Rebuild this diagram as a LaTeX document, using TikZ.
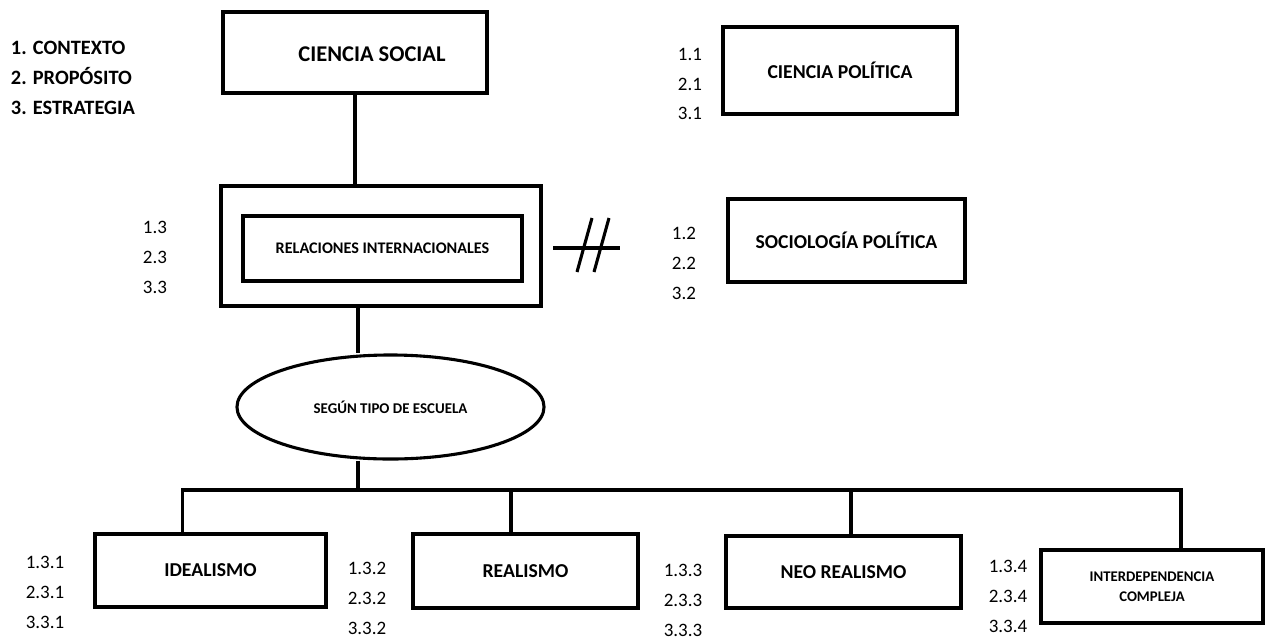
\documentclass[tikz,border=0pt]{standalone}
\usepackage{fontspec}
\setmainfont{Carlito}
\usetikzlibrary{shapes.geometric}

\begin{document}
\begin{tikzpicture}[x=0.025cm, y=-0.025cm,
	caja/.style={draw, line width=2.6pt, inner sep=0pt, font=\bfseries\fontsize{14}{16}\selectfont},
	conn/.style={line width=2.6pt},
	nums/.style={align=center, font=\fontsize{13.5}{21.3}\selectfont}]
	\useasboundingbox (0,0) rectangle (1265,640);

	% leyenda
	\node[anchor=west, align=left, font=\bfseries\fontsize{14.5}{21.3}\selectfont] (leyenda) at (6,78) {1. CONTEXTO\\2. PROP\'OSITO\\3. ESTRATEGIA};

	% recuadros superiores
	\node[caja, minimum width=6.6cm, minimum height=2.025cm] (social) at (355,52.5) {};
	\node[font=\bfseries\fontsize{16}{18}\selectfont] (socialtxt) at (372,54) {CIENCIA SOCIAL};
	\node[caja, minimum width=5.85cm, minimum height=2.175cm] (politica) at (840,70.5) {CIENCIA POL\'ITICA};
	\node[caja, minimum width=5.925cm, minimum height=2.075cm] (sociologia) at (846.5,240.5) {SOCIOLOG\'IA POL\'ITICA};
	\node[caja, minimum width=8cm, minimum height=3cm] (riext) at (381,246) {};
	\node[caja, minimum width=6.975cm, minimum height=1.625cm, font=\bfseries\fontsize{11.5}{13}\selectfont] (riint) at (382.5,248.5) {RELACIONES INTERNACIONALES};
	\node[caja, ellipse, line width=2.2pt, minimum width=7.675cm, minimum height=2.6cm, font=\bfseries\fontsize{10.6}{12}\selectfont] (escuela) at (390.5,407) {SEG\'UN TIPO DE ESCUELA};

	% escuelas
	\node[caja, minimum width=5.775cm, minimum height=1.825cm] (idealismo) at (210.5,570.5) {IDEALISMO};
	\node[caja, minimum width=5.625cm, minimum height=1.85cm] (realismo) at (525.5,571) {REALISMO};
	\node[caja, minimum width=5.875cm, minimum height=1.8cm] (neorealismo) at (843.5,572) {NEO REALISMO};
	\node[caja, minimum width=5.55cm, minimum height=1.825cm, align=center, font=\bfseries\fontsize{10.5}{14.2}\selectfont] (interdep) at (1152,586.5) {INTERDEPENDENCIA\\COMPLEJA};

	% numeros
	\node[nums] (n1) at (690,84) {1.1\\2.1\\3.1};
	\node[nums] (n2) at (684,263) {1.2\\2.2\\3.2};
	\node[nums] (n3) at (155,257) {1.3\\2.3\\3.3};
	\node[nums] (n31) at (45,592) {1.3.1\\2.3.1\\3.3.1};
	\node[nums] (n32) at (367,598) {1.3.2\\2.3.2\\3.3.2};
	\node[nums] (n33) at (683,600) {1.3.3\\2.3.3\\3.3.3};
	\node[nums] (n34) at (1008,596) {1.3.4\\2.3.4\\3.3.4};

	% conectores
	\coordinate (barra) at (358,490);
	\draw[conn] (social.south) -- (social.south |- riext.north);
	\draw[conn] (riext.south -| barra) -- (escuela.north -| barra);
	\draw[conn] (escuela.south -| barra) -- (barra);
	\draw[conn] ([shift={(-28,0)}]idealismo.north) -- ([shift={(-28,0)}]idealismo.north |- barra) -- ([shift={(29,0)}]interdep.north |- barra) -- ([shift={(29,0)}]interdep.north);
	\draw[conn] ([shift={(-14.5,0)}]realismo.north) -- ([shift={(-14.5,0)}]realismo.north |- barra);
	\draw[conn] ([shift={(7.5,0)}]neorealismo.north) -- ([shift={(7.5,0)}]neorealismo.north |- barra);

	% signo distinto
	\draw[line width=2.2pt] (553,248) -- (620,248);
	\draw[line width=2.2pt] (577,272) -- (592,218);
	\draw[line width=2.2pt] (594,272) -- (609,218);
\end{tikzpicture}
\end{document}
